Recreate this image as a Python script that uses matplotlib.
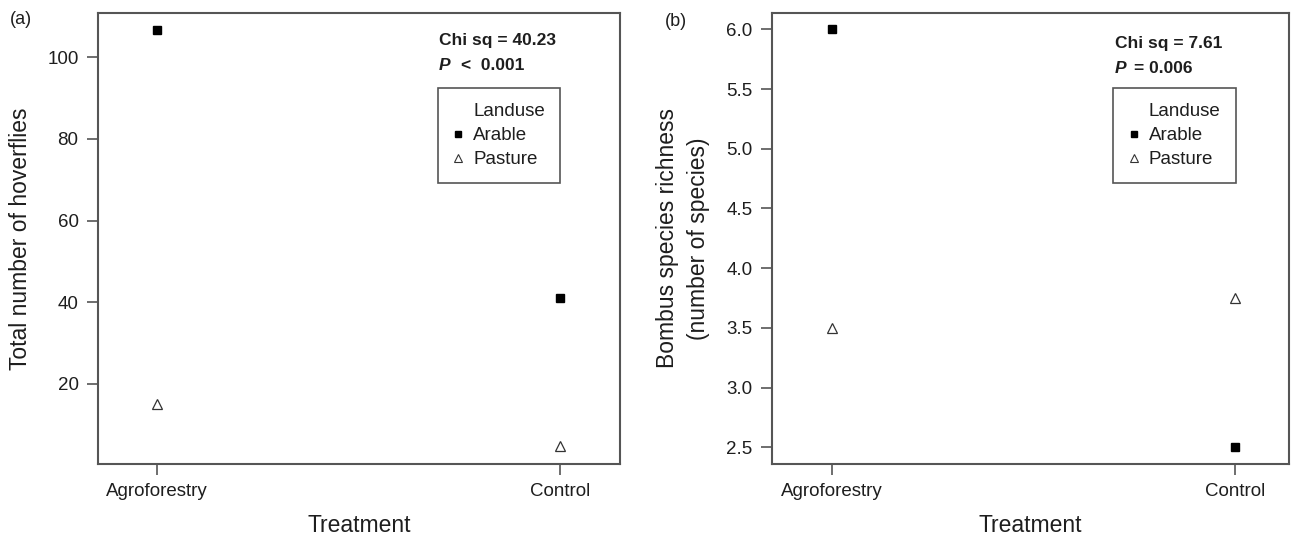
#!/usr/bin/env python3
"""Two-panel dot plot: hoverfly counts and Bombus richness by treatment/landuse."""

import matplotlib

matplotlib.use("Agg")
import matplotlib.pyplot as plt  # noqa: E402
from matplotlib.lines import Line2D  # noqa: E402

# --- data --------------------------------------------------------------------
TREATMENTS = ["Agroforestry", "Control"]
HOVER_ARABLE = [106.6, 41.0]
HOVER_PASTURE = [15.0, 4.8]
BOMBUS_ARABLE = [6.0, 2.5]
BOMBUS_PASTURE = [3.5, 3.75]

HOVER_TICKS = [20, 40, 60, 80, 100]
BOMBUS_TICKS = [2.5, 3.0, 3.5, 4.0, 4.5, 5.0, 5.5, 6.0]

STATS_A = ("Chi sq = 40.23", "<  0.001")
STATS_B = ("Chi sq = 7.61", "= 0.006")

INK = "#1e1e1e"
SPINE = "#555555"

plt.rcParams.update({
    "font.family": ["Liberation Sans", "DejaVu Sans"],
    "text.color": INK,
    "axes.labelcolor": INK,
    "xtick.color": SPINE,
    "ytick.color": SPINE,
    "xtick.labelcolor": INK,
    "ytick.labelcolor": INK,
})

W, H = 1291, 540
fig = plt.figure(figsize=(W / 100, H / 100), dpi=100)


def px_axes(left, top, right, bottom):
    return fig.add_axes([left / W, 1 - bottom / H,
                         (right - left) / W, (bottom - top) / H])


def style(ax, xlim, ylim, yticks, yfmt):
    x = [1, 2]
    ax.set_xlim(*xlim)
    ax.set_ylim(*ylim)
    ax.set_xticks(x)
    ax.set_xticklabels(TREATMENTS)
    ax.set_yticks(yticks)
    ax.set_yticklabels([yfmt(v) for v in yticks])
    for s in ax.spines.values():
        s.set_color(SPINE)
        s.set_linewidth(1.5)
    ax.tick_params(direction="out", length=8, width=1.2, pad=6,
                   labelsize=13.5)
    ax.set_xlabel("Treatment", fontsize=16.5, labelpad=10)


def points(ax, arable, pasture):
    x = [1, 2]
    ax.plot(x, arable, linestyle="none", marker="s", markersize=5.5,
            color="black", zorder=3)
    ax.plot(x, pasture, linestyle="none", marker="^", markersize=7.5,
            markerfacecolor="white", markeredgecolor="#333333",
            markeredgewidth=0.9, zorder=3)


def legend(ax, x, y):
    handles = [
        Line2D([], [], linestyle="none", marker=None),
        Line2D([], [], linestyle="none", marker="s", markersize=4.5,
               color="black"),
        Line2D([], [], linestyle="none", marker="^", markersize=6,
               markerfacecolor="white", markeredgecolor="#333333",
               markeredgewidth=0.8),
    ]
    leg = ax.legend(handles, ["Landuse", "Arable", "Pasture"],
                    loc="upper left", bbox_to_anchor=(x, y),
                    borderaxespad=0, fontsize=13.5, frameon=True,
                    fancybox=False, edgecolor=SPINE, framealpha=1,
                    borderpad=0.8, labelspacing=0.38, handlelength=0.6,
                    handletextpad=0.5)
    leg.get_frame().set_linewidth(1.2)


def stats(ax, x, y1, y2, chi, p, pgap):
    ax.text(x, y1, chi, transform=ax.transAxes, fontsize=12.5,
            fontweight="bold", va="center", ha="left")
    ax.text(x, y2, "P", transform=ax.transAxes, fontsize=12.5,
            fontweight="bold", style="italic", va="center", ha="left")
    ax.text(x + pgap, y2, p, transform=ax.transAxes, fontsize=12.5,
            fontweight="bold", va="center", ha="left")


# --- panel (a) ---------------------------------------------------------------
ax1 = px_axes(98, 13, 620, 464)
points(ax1, HOVER_ARABLE, HOVER_PASTURE)
style(ax1, (0.854, 2.149), (0.4, 110.8), HOVER_TICKS, lambda v: f"{v:d}")
ax1.set_ylabel("Total number of hoverflies", fontsize=16.5, labelpad=11)
stats(ax1, 0.653, 0.94, 0.884, STATS_A[0], STATS_A[1], 0.042)
legend(ax1, 0.651, 0.834)
fig.text(10 / W, 1 - 20 / H, "(a)", fontsize=13, va="center", ha="left")

# --- panel (b) ---------------------------------------------------------------
ax2 = px_axes(772, 13, 1289, 464)
points(ax2, BOMBUS_ARABLE, BOMBUS_PASTURE)
style(ax2, (0.851, 2.134), (2.36, 6.137), BOMBUS_TICKS, lambda v: f"{v:.1f}")
ax2.set_ylabel("Bombus species richness\n(number of species)",
               fontsize=16.5, labelpad=12, linespacing=1.45)
stats(ax2, 0.663, 0.933, 0.878, STATS_B[0], STATS_B[1], 0.038)
legend(ax2, 0.66, 0.834)
fig.text(665 / W, 1 - 22 / H, "(b)", fontsize=13, va="center", ha="left")

fig.savefig("out.png", dpi=100)
